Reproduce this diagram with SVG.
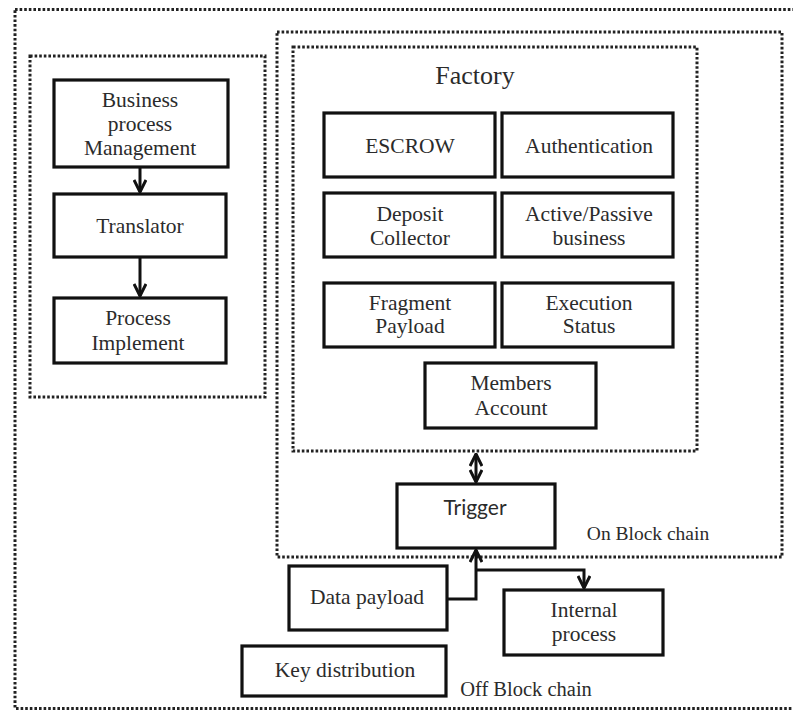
<svg xmlns="http://www.w3.org/2000/svg" width="793" height="711" viewBox="0 0 793 711">
<defs>
<style>
.dot{fill:none;stroke:#222;stroke-width:3;stroke-dasharray:2.6 2}
.box{fill:#fff;stroke:#111;stroke-width:3.2}
.t{font-family:"Liberation Serif","Times New Roman",serif;font-size:21.5px;fill:#2b2b2b;text-anchor:middle}
.s{font-family:Lato,"Open Sans",sans-serif;font-size:21px;fill:#2b2b2b;text-anchor:middle}
.c{fill:none;stroke:#111;stroke-width:3}
</style>
<marker id="ah" viewBox="0 0 14 14" refX="13" refY="7" markerWidth="14" markerHeight="14" markerUnits="userSpaceOnUse" orient="auto-start-reverse">
<path d="M1,1 L13,7 L1,13" fill="none" stroke="#111" stroke-width="3"/>
</marker>
</defs>
<rect width="793" height="711" fill="#fff"/>
<g id="off-chain">
<rect class="dot" x="15" y="9.5" width="800" height="699"/>
<text class="t" x="526" y="696" style="font-size:20.5px">Off Block chain</text>
</g>
<g id="left-group">
<rect class="dot" x="30" y="56" width="235" height="341"/>
</g>
<g id="on-chain">
<rect class="dot" x="277" y="32" width="505" height="525"/>
<text class="t" x="648" y="540" style="font-size:19.5px">On Block chain</text>
</g>
<g id="factory">
<rect class="dot" x="293" y="47" width="404" height="404"/>
<text class="t" x="475" y="84" style="font-size:26px">Factory</text>
</g>
<g id="bpm"><rect class="box" x="54" y="80" width="174" height="87"/>
<text class="t" x="140" y="107">Business</text><text class="t" x="140" y="131">process</text><text class="t" x="140" y="155">Management</text></g>
<g id="translator"><rect class="box" x="54" y="194" width="172" height="63"/>
<text class="t" x="140" y="233">Translator</text></g>
<g id="process-implement"><rect class="box" x="54" y="298" width="172" height="65"/>
<text class="t" x="138" y="325">Process</text><text class="t" x="138" y="350">Implement</text></g>
<g id="escrow"><rect class="box" x="324" y="113" width="171" height="64"/>
<text class="t" x="410" y="153">ESCROW</text></g>
<g id="authentication"><rect class="box" x="502" y="113" width="171" height="64"/>
<text class="t" x="589" y="153">Authentication</text></g>
<g id="deposit-collector"><rect class="box" x="324" y="193" width="171" height="64"/>
<text class="t" x="410" y="221">Deposit</text><text class="t" x="410" y="245">Collector</text></g>
<g id="active-passive"><rect class="box" x="502" y="193" width="171" height="64"/>
<text class="t" x="589" y="221">Active/Passive</text><text class="t" x="589" y="245">business</text></g>
<g id="fragment-payload"><rect class="box" x="324" y="283" width="171" height="64"/>
<text class="t" x="410" y="310">Fragment</text><text class="t" x="410" y="333">Payload</text></g>
<g id="execution-status"><rect class="box" x="502" y="283" width="171" height="64"/>
<text class="t" x="589" y="310">Execution</text><text class="t" x="589" y="333">Status</text></g>
<g id="members-account"><rect class="box" x="425" y="363" width="171" height="65"/>
<text class="t" x="511" y="390">Members</text><text class="t" x="511" y="415">Account</text></g>
<g id="trigger"><rect class="box" x="397" y="484" width="158" height="64"/>
<text class="s" x="475" y="515">Trigger</text></g>
<g id="data-payload"><rect class="box" x="289" y="566" width="158" height="64"/>
<text class="t" x="367" y="604">Data payload</text></g>
<g id="internal-process"><rect class="box" x="504" y="590" width="159" height="65"/>
<text class="t" x="584" y="617">Internal</text><text class="t" x="584" y="641">process</text></g>
<g id="key-distribution"><rect class="box" x="242" y="646" width="204" height="50"/>
<text class="t" x="345" y="677">Key distribution</text></g>
<g id="connectors">
<line class="c" x1="140" y1="168" x2="140" y2="192" marker-end="url(#ah)"/>
<line class="c" x1="140" y1="258" x2="140" y2="296" marker-end="url(#ah)"/>
<line class="c" x1="476" y1="454" x2="476" y2="482" marker-start="url(#ah)" marker-end="url(#ah)"/>
<polyline class="c" points="447,599 476,599 476,550" marker-end="url(#ah)"/>
<polyline class="c" points="476,570 584,570 584,588" marker-end="url(#ah)"/>
</g>
</svg>
